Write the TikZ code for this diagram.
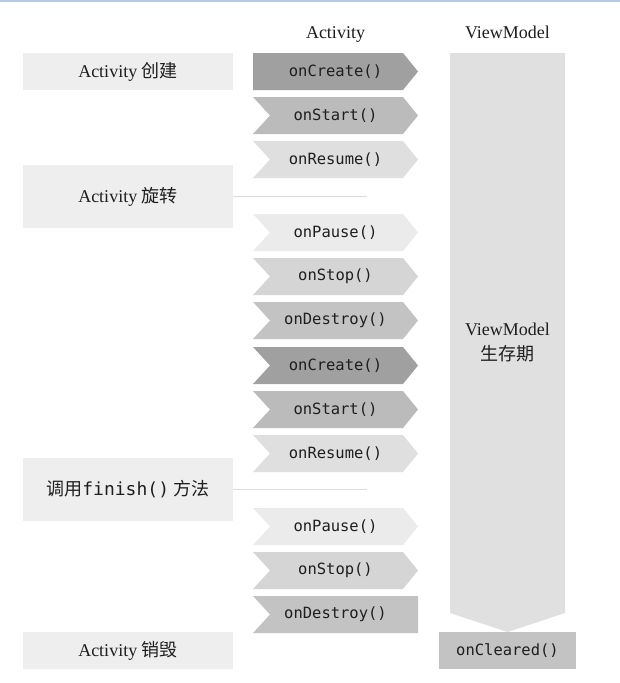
\documentclass[tikz,border=0pt]{standalone}
\usepackage{fontspec}
\setmainfont{Liberation Serif}
\setmonofont{DejaVu Sans Mono}
\newfontfamily\cjk{Noto Sans CJK SC}
\definecolor{ccreate}{HTML}{A0A0A0}
\definecolor{cstart}{HTML}{BBBBBB}
\definecolor{cresume}{HTML}{DFDFDF}
\definecolor{cpause}{HTML}{EBEBEB}
\definecolor{cstop}{HTML}{D5D5D5}
\definecolor{cdestroy}{HTML}{C3C3C3}
\definecolor{cvm}{HTML}{E0E0E0}
\definecolor{cleft}{HTML}{EEEEEE}
\definecolor{cline}{HTML}{DCDCDC}
\definecolor{ctext}{HTML}{1E1E1E}
\definecolor{ctop}{HTML}{AFCDEB}
\tikzset{
  meth/.style={inner sep=0pt, text=ctext, font=\fontsize{15.5}{18}\ttfamily},
  leftbox/.style={fill=cleft, inner sep=0pt, minimum width=210pt, text=ctext, font=\fontsize{18}{25}\selectfont},
  head/.style={inner sep=0pt, anchor=base, text=ctext, font=\fontsize{18}{25}\selectfont},
  sepline/.style={draw=cline, line width=1.5pt},
}
% #1 top y, #2 colour, #3 name, #4 text
\newcommand\firstchev[4]{%
  \fill[#2] (253,#1) -- (403,#1) -- (418,#1+18.5) -- (403,#1+37) -- (253,#1+37) -- cycle;
  \node[meth] (#3) at (335.5,#1+18.5) {#4};}
\newcommand\midchev[4]{%
  \fill[#2] (253,#1) -- (403,#1) -- (418,#1+18.5) -- (403,#1+37) -- (253,#1+37) -- (270,#1+18.5) -- cycle;
  \node[meth] (#3) at (335.5,#1+18.5) {#4};}
\newcommand\lastchev[4]{%
  \fill[#2] (253,#1) -- (418,#1) -- (418,#1+37) -- (253,#1+37) -- (270,#1+18.5) -- cycle;
  \node[meth] (#3) at (335.5,#1+18.5) {#4};}
\begin{document}
\begin{tikzpicture}[x=1pt,y=-1pt]
\useasboundingbox (0,0) rectangle (620,683);
\fill[white] (0,0) rectangle (620,683);
\fill[ctop] (0,0) rectangle (620,1.6);

% headers
\node[head] (hact) at (335.5,38) {Activity};
\node[head] (hvm) at (507.5,38) {ViewModel};

% left labels
\node[leftbox, minimum height=37pt] (create) at (128,71.5) {Activity {\cjk 创建}};
\node[leftbox, minimum height=63pt] (rotate) at (128,196.5) {Activity {\cjk 旋转}};
\node[leftbox, minimum height=63pt] (finish) at (128,489.5) {{\cjk 调用}\texttt{finish()} {\cjk 方法}};
\node[leftbox, minimum height=37pt] (destroy) at (128,650.5) {Activity {\cjk 销毁}};

\coordinate (rotend) at (367,196.5);
\coordinate (finend) at (367,489.5);
\draw[sepline] (rotate.east) -- (rotend);
\draw[sepline] (finish.east) -- (finend);

% activity lifecycle
\firstchev{53}{ccreate}{c1}{onCreate()}
\midchev{97}{cstart}{s1}{onStart()}
\midchev{141}{cresume}{r1}{onResume()}
\midchev{214}{cpause}{p1}{onPause()}
\midchev{258}{cstop}{t1}{onStop()}
\midchev{302}{cdestroy}{d1}{onDestroy()}
\midchev{347}{ccreate}{c2}{onCreate()}
\midchev{391}{cstart}{s2}{onStart()}
\midchev{435}{cresume}{r2}{onResume()}
\midchev{508}{cpause}{p2}{onPause()}
\midchev{552}{cstop}{t2}{onStop()}
\lastchev{596}{cdestroy}{d2}{onDestroy()}

% ViewModel lifetime
\fill[cvm] (450,53) -- (565,53) -- (565,613) -- (507.5,632) -- (450,613) -- cycle;
\node[inner sep=0pt, align=center, text=ctext, font=\fontsize{18}{25}\selectfont] (vmlife) at (507.5,343) {ViewModel\\{\cjk 生存期}};
\node[fill=cdestroy, inner sep=0pt, minimum width=137pt, minimum height=37pt, text=ctext, font=\fontsize{15.5}{18}\ttfamily] (cleared) at (507.5,650.5) {onCleared()};
\end{tikzpicture}
\end{document}
